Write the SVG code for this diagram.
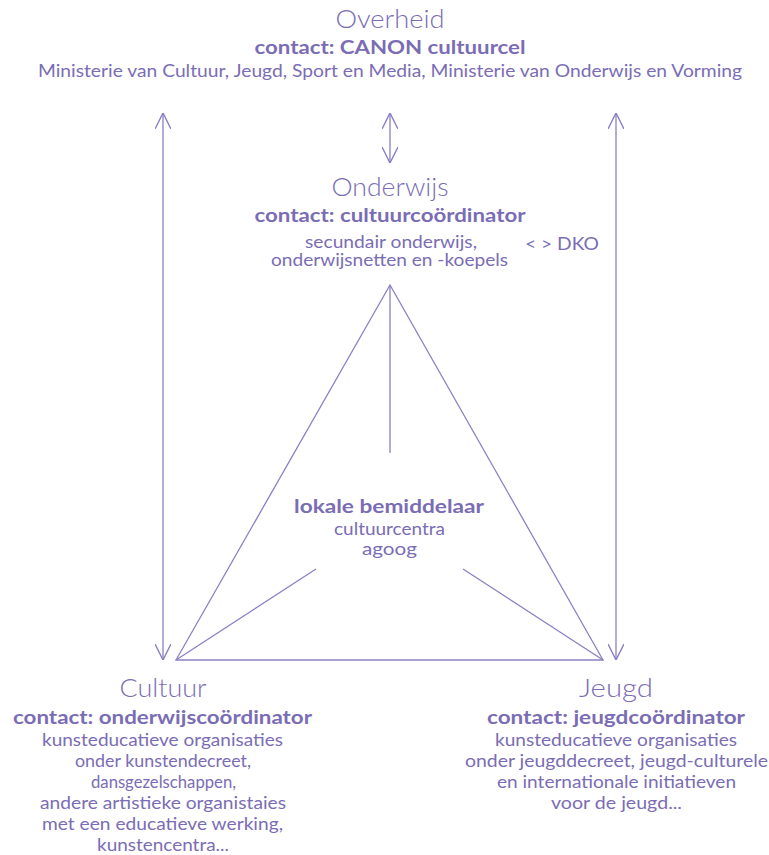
<svg xmlns="http://www.w3.org/2000/svg" width="769" height="855" viewBox="0 0 769 855">
<style>
text{font-family:Lato,"Noto Sans",sans-serif;fill:#7a6db5;text-anchor:middle}
.t{font-size:26px;font-weight:300}
.b{font-size:18px;font-weight:700}
.r{font-size:16.5px;font-weight:400}
.ln{stroke:#8a80c4;stroke-width:1.3;fill:none}
</style>
<defs>
<marker id="ah" viewBox="0 0 10 10" refX="10" refY="5" markerWidth="16" markerHeight="16" markerUnits="userSpaceOnUse" orient="auto-start-reverse">
<path d="M0,0 L10,5 L0,10" fill="none" stroke="#8a80c4" stroke-width="0.9"/>
</marker>
</defs>
<rect width="769" height="855" fill="#fff"/>
<g id="connectors">
<line class="ln" x1="163" y1="113" x2="163" y2="660" marker-start="url(#ah)" marker-end="url(#ah)"/>
<line class="ln" x1="616" y1="113" x2="616" y2="660" marker-start="url(#ah)" marker-end="url(#ah)"/>
<line class="ln" x1="390" y1="113" x2="390" y2="163" marker-start="url(#ah)" marker-end="url(#ah)"/>
<polygon class="ln" points="390,285 176,660 603,660"/>
<line class="ln" x1="390" y1="285" x2="390" y2="453"/>
<line class="ln" x1="176" y1="660" x2="316" y2="569"/>
<line class="ln" x1="603" y1="660" x2="463" y2="569"/>
</g>
<g id="overheid">
<text class="t" x="390" y="28" textLength="109" lengthAdjust="spacingAndGlyphs">Overheid</text>
<text class="b" x="390" y="54" textLength="271" lengthAdjust="spacingAndGlyphs">contact: CANON cultuurcel</text>
<text class="r" x="390" y="77" textLength="704" lengthAdjust="spacingAndGlyphs">Ministerie van Cultuur, Jeugd, Sport en Media, Ministerie van Onderwijs en Vorming</text>
</g>
<g id="onderwijs">
<text class="t" x="390" y="196" textLength="117" lengthAdjust="spacingAndGlyphs">Onderwijs</text>
<text class="b" x="390" y="222" textLength="271" lengthAdjust="spacingAndGlyphs">contact: cultuurcoördinator</text>
<text class="r" x="391" y="248" textLength="172" lengthAdjust="spacingAndGlyphs">secundair onderwijs,</text>
<text class="r" x="389.5" y="266" textLength="237" lengthAdjust="spacingAndGlyphs">onderwijsnetten en -koepels</text>
<text class="r" x="562" y="250" textLength="74" lengthAdjust="spacingAndGlyphs">&lt; &gt; DKO</text>
</g>
<g id="bemiddelaar">
<text class="b" x="389" y="513" textLength="190" lengthAdjust="spacingAndGlyphs">lokale bemiddelaar</text>
<text class="r" x="389.5" y="535" textLength="111" lengthAdjust="spacingAndGlyphs">cultuurcentra</text>
<text class="r" x="389.5" y="555" textLength="55" lengthAdjust="spacingAndGlyphs">agoog</text>
</g>
<g id="cultuur">
<text class="t" x="163" y="697" textLength="87" lengthAdjust="spacingAndGlyphs">Cultuur</text>
<text class="b" x="162.5" y="724" textLength="299" lengthAdjust="spacingAndGlyphs">contact: onderwijscoördinator</text>
<text class="r" x="162.5" y="746" textLength="241" lengthAdjust="spacingAndGlyphs">kunsteducatieve organisaties</text>
<text class="r" x="163" y="767" textLength="176" lengthAdjust="spacingAndGlyphs">onder kunstendecreet,</text>
<text class="r" x="163.5" y="788" textLength="145" lengthAdjust="spacingAndGlyphs">dansgezelschappen,</text>
<text class="r" x="163" y="809" textLength="246" lengthAdjust="spacingAndGlyphs">andere artistieke organistaies</text>
<text class="r" x="162.5" y="830" textLength="241" lengthAdjust="spacingAndGlyphs">met een educatieve werking,</text>
<text class="r" x="163" y="851" textLength="132" lengthAdjust="spacingAndGlyphs">kunstencentra...</text>
</g>
<g id="jeugd">
<text class="t" x="616" y="697" textLength="74" lengthAdjust="spacingAndGlyphs">Jeugd</text>
<text class="b" x="616" y="724" textLength="258" lengthAdjust="spacingAndGlyphs">contact: jeugdcoördinator</text>
<text class="r" x="616" y="746" textLength="242" lengthAdjust="spacingAndGlyphs">kunsteducatieve organisaties</text>
<text class="r" x="616.5" y="767" textLength="303" lengthAdjust="spacingAndGlyphs">onder jeugddecreet, jeugd-culturele</text>
<text class="r" x="616.5" y="788" textLength="239" lengthAdjust="spacingAndGlyphs">en internationale initiatieven</text>
<text class="r" x="616.5" y="809" textLength="131" lengthAdjust="spacingAndGlyphs">voor de jeugd...</text>
</g>
</svg>
